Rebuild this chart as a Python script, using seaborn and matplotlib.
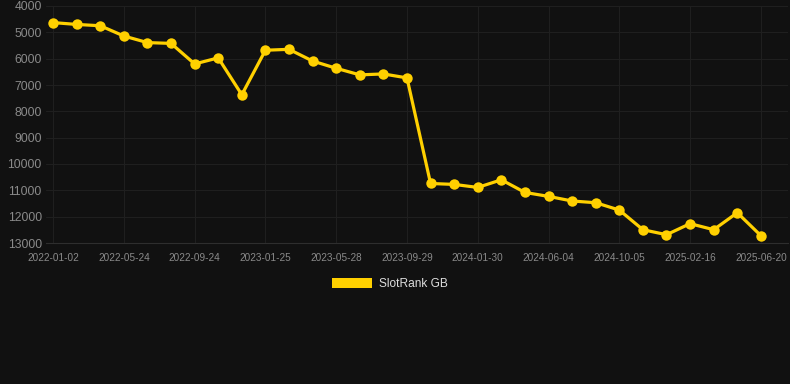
import pandas as pd
import matplotlib
matplotlib.use("Agg")
import matplotlib.pyplot as plt
import seaborn as sns
from matplotlib.patches import Patch

dates = ["2022-01-02", "2022-05-24", "2022-09-24", "2023-01-25", "2023-05-28", "2023-09-29",
         "2024-01-30", "2024-06-04", "2024-10-05", "2025-02-16", "2025-06-20"]
ranks = [4630, 4700, 4750, 5140, 5390, 5420, 6200, 5970, 7370, 5680, 5645,
         6090, 6365, 6615, 6580, 6730, 10740, 10775, 10890, 10600, 11080,
         11230, 11405, 11470, 11750, 12495, 12685, 12265, 12495, 11850, 12720]
series_name = "SlotRank GB"

bg = "#111111"
gold = "#FFD000"

df = pd.DataFrame({"idx": range(len(ranks)), "rank": ranks})

sns.set_style("dark")
plt.rcParams["font.family"] = ["Liberation Sans", "DejaVu Sans"]

fig = plt.figure(figsize=(7.9, 3.84), dpi=100, facecolor=bg)
ax = fig.add_axes([46 / 790, 1 - 243 / 384, (788 - 46) / 790, (243 - 6) / 384])
ax.set_facecolor(bg)

sns.lineplot(data=df, x="idx", y="rank", ax=ax, color=gold, linewidth=2.3,
             marker="o", markersize=7.5, markeredgewidth=0, legend=False)

ax.set_ylim(13000, 4000)
ax.set_xlim(-0.3, 31.15)
ax.set_yticks(range(4000, 13001, 1000))
ax.set_xticks(range(0, len(ranks), 3))
ax.set_xticklabels(dates)
ax.grid(True, color="#1f1f1f", linewidth=0.8)
ax.set_axisbelow(True)
ax.tick_params(axis="y", colors="#8a8a8a", labelsize=8.7, length=0, pad=3)
ax.tick_params(axis="x", colors="#8a8a8a", labelsize=7.2, length=5, width=0.8, pad=2)
ax.tick_params(axis="x", color="#262626")
for side in ["top", "right", "left"]:
    ax.spines[side].set_visible(False)
ax.spines["bottom"].set_color("#2e2e2e")
ax.set_xlabel("")
ax.set_ylabel("")

handle = Patch(facecolor=gold, edgecolor="none")
fig.legend([handle], [series_name], loc="center", bbox_to_anchor=(0.494, 1 - 284 / 384),
           frameon=False, handlelength=3.35, handleheight=1.0, handletextpad=0.6,
           fontsize=8.6, labelcolor="#dddddd")

fig.savefig("out.png", dpi=100, facecolor=bg)
